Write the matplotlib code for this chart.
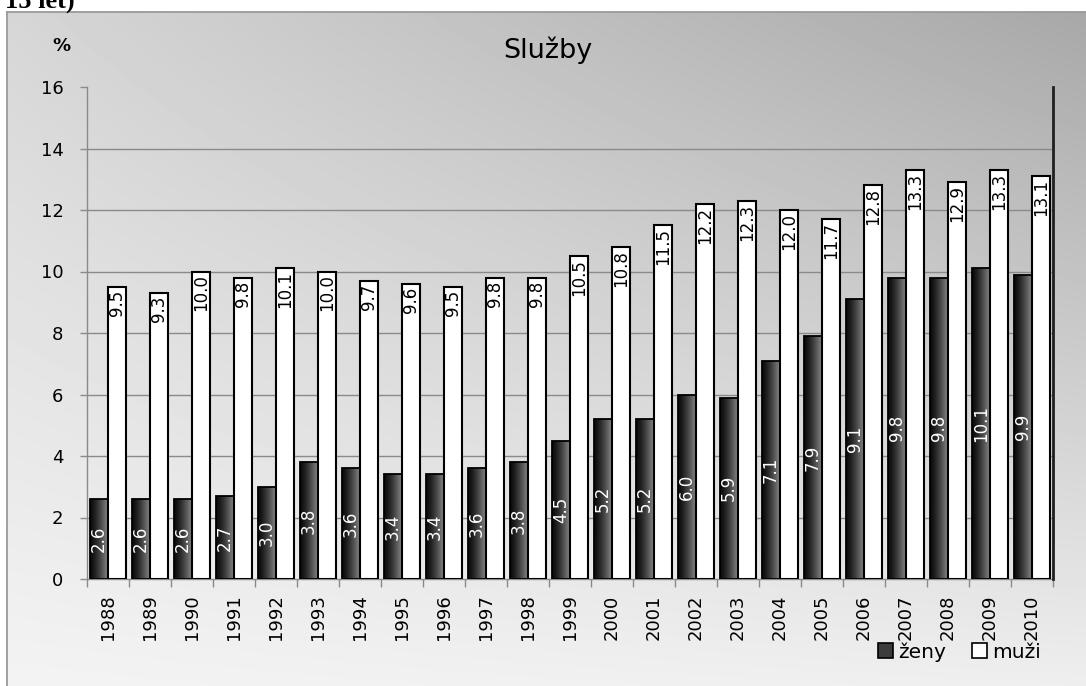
import numpy as np
import matplotlib
matplotlib.use("Agg")
import matplotlib.pyplot as plt
from matplotlib.patches import Patch

years = [str(y) for y in range(1988, 2011)]
zeny = [2.6, 2.6, 2.6, 2.7, 3.0, 3.8, 3.6, 3.4, 3.4, 3.6, 3.8, 4.5, 5.2, 5.2,
        6.0, 5.9, 7.1, 7.9, 9.1, 9.8, 9.8, 10.1, 9.9]
muzi = [9.5, 9.3, 10.0, 9.8, 10.1, 10.0, 9.7, 9.6, 9.5, 9.8, 9.8, 10.5, 10.8, 11.5,
        12.2, 12.3, 12.0, 11.7, 12.8, 13.3, 12.9, 13.3, 13.1]
yticks = [0, 2, 4, 6, 8, 10, 12, 14, 16]
title = "Služby"
series_names = ["ženy", "muži"]

W, H = 1086, 686
fig = plt.figure(figsize=(W / 100, H / 100), dpi=100)
fig.patch.set_facecolor("white")

# background with gradient frame
bg = fig.add_axes([0, 0, 1, 1], zorder=-10)
bg.set_xlim(0, W)
bg.set_ylim(H, 0)
bg.axis("off")
fx0, fy0 = 7, 12
nx, ny = 200, 150
u = np.linspace(0, 1, nx)[None, :]
t = np.linspace(0, 1, ny)[:, None]
TL, TR, BL, BR = 214, 168, 243, 238
grad = TL * (1 - u) * (1 - t) + TR * u * (1 - t) + BL * (1 - u) * t + BR * u * t
bg.imshow(grad / 255.0, cmap="gray", vmin=0, vmax=1, extent=(fx0, W, H, fy0),
          aspect="auto", interpolation="bilinear")
bg.plot([fx0, fx0], [fy0, H], color="#9a9a9a", lw=1.3)
bg.plot([fx0, W], [fy0, fy0], color="#9a9a9a", lw=1.3)

fig.text(5 / W, 1 - 8 / H, "15 let)", family="Liberation Serif", weight="bold",
         fontsize=19, va="baseline", ha="left")

# main axes
L, R, T, B = 87, 1053, 87, 579
ax = fig.add_axes([L / W, 1 - B / H, (R - L) / W, (B - T) / H])
ax.patch.set_visible(False)
n = len(years)
x = np.arange(n)
bw = 0.43

for yv in yticks[1:-1]:
    ax.axhline(yv, color="#8a8a8a", lw=1.0, zorder=0.5)

dark_bars = ax.bar(x - bw / 2, zeny, width=bw, facecolor="none", edgecolor="black",
                   lw=1.3, zorder=3)
white_bars = ax.bar(x + bw / 2, muzi, width=bw, facecolor="white", edgecolor="black",
                    lw=1.5, zorder=3)

gcol = np.linspace(0, 1, 64)
gvals = 0.04 + 0.52 * gcol ** 1.3
for b in dark_bars:
    im = ax.imshow(gvals[None, :], cmap="gray", vmin=0, vmax=1,
                   extent=(b.get_x(), b.get_x() + b.get_width(), 0, b.get_height()),
                   aspect="auto", interpolation="bilinear", zorder=2)
    im.set_clip_path(b)
ax.set_xlim(-0.5, n - 0.5)
ax.set_ylim(0, 16)

lab_font = dict(family="DejaVu Sans", fontsize=12)
for xi, v in zip(x, zeny):
    ax.text(xi - bw / 2, v / 2, f"{v:.1f}", rotation=90, ha="center", va="center",
            color="white", zorder=5, **lab_font)
for xi, v in zip(x, muzi):
    ax.text(xi + bw / 2, v - 0.1, f"{v:.1f}", rotation=90, ha="center", va="top",
            color="black", zorder=5, **lab_font)

# spines
for s in ["top", "right"]:
    ax.spines[s].set_visible(False)
ax.spines["left"].set_color("#8a8a8a")
ax.spines["bottom"].set_color("#8a8a8a")
ax.spines["left"].set_linewidth(1.0)
ax.spines["bottom"].set_linewidth(1.0)
ax.plot([n - 0.5, n - 0.5], [0, 16], color="#202020", lw=2.0, zorder=6, clip_on=False)

ax.set_yticks(yticks)
ax.set_yticklabels([str(v) for v in yticks], fontsize=13, family="DejaVu Sans")
ax.tick_params(axis="y", length=5, width=1.0, color="#8a8a8a", pad=12)

ax.set_xticks(x)
ax.set_xticklabels(years, rotation=90, fontsize=13, family="DejaVu Sans")
ax.set_xticks(np.arange(n + 1) - 0.5, minor=True)
ax.tick_params(axis="x", which="major", length=0, pad=11)
ax.tick_params(axis="x", which="minor", length=6, width=1.0, color="#8a8a8a")

fig.text(61 / W, 1 - 46 / H, "%", fontsize=13, weight="bold", ha="center",
         va="center", family="DejaVu Sans")
fig.text(548 / W, 1 - 58 / H, title, fontsize=19.5, ha="center", va="baseline",
         family="DejaVu Sans")

handles = [Patch(facecolor="#3c3c3c", edgecolor="black", lw=1.2),
           Patch(facecolor="white", edgecolor="black", lw=1.2)]
fig.legend(handles, series_names, loc="center right",
           bbox_to_anchor=(1041 / W, 1 - 652 / H), ncol=2, frameon=False,
           fontsize=14.5, handlelength=0.75, handleheight=0.75, handletextpad=0.25,
           columnspacing=1.3, borderaxespad=0, borderpad=0)

fig.savefig("out.png", dpi=100)
